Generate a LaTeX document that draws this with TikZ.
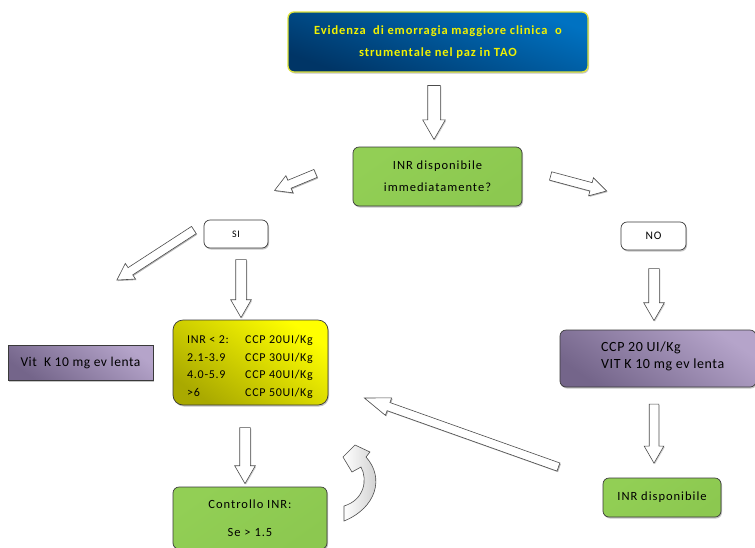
\documentclass[tikz,border=0pt]{standalone}
\usepackage{fontspec}
\setmainfont{Carlito}
\newfontfamily\wide[LetterSpace=8]{Carlito}
\newfontfamily\wideb[LetterSpace=7]{Carlito Bold}
\newfontfamily\widey[LetterSpace=6]{Carlito}
\newfontfamily\widep[LetterSpace=4]{Carlito}
\usetikzlibrary{shapes.arrows,calc,shadows}
\definecolor{blueA}{HTML}{0072C2}
\definecolor{blueB}{HTML}{003566}
\definecolor{ybord}{HTML}{DDE23A}
\definecolor{ytext}{HTML}{F2F200}
\definecolor{greenA}{HTML}{92CF55}
\definecolor{greenM}{HTML}{50802A}
\definecolor{greenB}{HTML}{8CC850}
\definecolor{yelA}{HTML}{FFFF00}
\definecolor{yelB}{HTML}{A9A900}
\definecolor{purA}{HTML}{B5A4CA}
\definecolor{purB}{HTML}{74658A}
\definecolor{bord}{HTML}{3A3A3A}
\newcommand\blockarrow[4][]{%
  \path let \p1=(#3), \p2=(#4), \n1={atan2(\y2-\y1,\x2-\x1)}, \n2={veclen(\x2-\x1,\y2-\y1)} in
    node[barrow, rotate=\n1, minimum height=\n2, #1] (#2) at ($(#3)!0.5!(#4)$) {};}
\tikzset{
  box/.style={draw=bord, line width=0.7pt, rounded corners=6pt, align=center,
    inner sep=0pt, font=\wide\fontsize{12.5}{22}\selectfont,
    drop shadow={shadow xshift=1pt, shadow yshift=-1.5pt, opacity=0.45}},
  greenbox/.style={box, top color=greenA, middle color=greenM, bottom color=greenB, shading angle=35},
  purbox/.style={box, top color=purA, bottom color=purB, shading angle=-35},
  txt/.style={inner sep=0pt, anchor=west, align=left},
  barrow/.style={single arrow, draw=gray!60!black, fill=white, line width=0.6pt,
    inner xsep=0pt, inner ysep=5pt, single arrow head extend=5pt,
    single arrow tip angle=60, anchor=center,
    drop shadow={shadow xshift=1pt, shadow yshift=-1pt, opacity=0.35}},
  thinarrow/.style={barrow, inner ysep=4pt, single arrow head extend=5pt}
}
\begin{document}
\begin{tikzpicture}[x=1pt,y=-1pt]
\useasboundingbox (0,0) rectangle (755,547);
\fill[white] (0,0) rectangle (755,547);

% boxes
\node[box, draw=ybord, line width=1.3pt, top color=blueA, bottom color=blueB, shading angle=-20,
  minimum width=300pt, minimum height=60pt, text=ytext, font=\wideb\fontsize{12.5}{22}\selectfont]
  (top) at (438,42) {Evidenza\ \ di emorragia maggiore clinica\ \ o\\strumentale nel paz in TAO};
\node[greenbox, minimum width=169pt, minimum height=59pt] (inr) at (437.5,176.5)
  {INR disponibile\\immediatamente?};
\node[box, fill=white, minimum width=64pt, minimum height=28pt, font=\wide\fontsize{10}{11}\selectfont] (si) at (236,234) {SI};
\node[box, fill=white, minimum width=65pt, minimum height=28pt, font=\wide\fontsize{11.5}{11}\selectfont] (no) at (653.5,236) {NO};
\node[box, top color=yelA, bottom color=yelB, shading angle=-35, minimum width=155pt, minimum height=85pt,
  rounded corners=10pt] (dose) at (250.5,362.5) {};
\node[txt, font=\widey\fontsize{12}{17.5}\selectfont] (dosetxt) at (187,367)
  {\makebox[58pt][l]{INR < 2:}CCP 20UI/Kg\\
   \makebox[58pt][l]{2.1-3.9}CCP 30UI/Kg\\
   \makebox[58pt][l]{4.0-5.9}CCP 40UI/Kg\\
   \makebox[58pt][l]{>6}CCP 50UI/Kg};
\node[purbox, rounded corners=0pt, minimum width=145pt, minimum height=35pt,
  font=\widep\fontsize{13.5}{16}\selectfont] (vitk) at (80.5,362.5)
  {Vit\ \ K 10 mg ev lenta};
\node[purbox, minimum width=196pt, minimum height=57pt] (ccp) at (658,358.5) {};
\node[txt, font=\widep\fontsize{14}{17}\selectfont] (ccptxt) at (601,356)
  {CCP 20 UI/Kg\\VIT K 10 mg ev lenta};
\node[greenbox, minimum width=154pt, minimum height=62pt, font=\wide\fontsize{12.5}{28}\selectfont]
  (ctrl) at (250,518) {Controllo INR:\\Se > 1.5};
\node[greenbox, minimum width=118pt, minimum height=39pt] (disp) at (662,497.5) {INR disponibile};

% arrow end points
\coordinate (a1s) at (434,80);   \coordinate (a1e) at (434,134);
\coordinate (a2s) at (319,172);  \coordinate (a2e) at (278,189);
\coordinate (a3s) at (547,175);  \coordinate (a3e) at (603,190);
\coordinate (a4s) at (197,228);  \coordinate (a4e) at (120,278);
\coordinate (a5s) at (241,255);  \coordinate (a5e) at (241,313);
\coordinate (a6s) at (654,264);  \coordinate (a6e) at (654,316);
\coordinate (a7s) at (245,423);  \coordinate (a7e) at (245,479);
\coordinate (a8s) at (564,469);  \coordinate (a8e) at (370,400);
\coordinate (a9s) at (654,400);  \coordinate (a9e) at (654,459);

\blockarrow[inner ysep=6pt]{ar1}{a1s}{a1e}
\blockarrow[thinarrow]{ar2}{a2s}{a2e}
\blockarrow[thinarrow]{ar3}{a3s}{a3e}
\blockarrow[thinarrow]{ar4}{a4s}{a4e}
\blockarrow{ar5}{a5s}{a5e}
\blockarrow{ar6}{a6s}{a6e}
\blockarrow{ar7}{a7s}{a7e}
\blockarrow[thinarrow, single arrow tip angle=40]{ar8}{a8s}{a8e}
\blockarrow[inner ysep=4.5pt]{ar9}{a9s}{a9e}

% curved return arrow
\draw[draw=gray!60!black, line width=0.6pt, left color=white, right color=gray!45]
  (344,506) .. controls (364,500) and (368,480) .. (361,467)
  -- (352,472) -- (343,457) -- (355,445) -- (370,452) -- (366,457)
  .. controls (385,478) and (376,508) .. (344,521) -- cycle;
\end{tikzpicture}
\end{document}
